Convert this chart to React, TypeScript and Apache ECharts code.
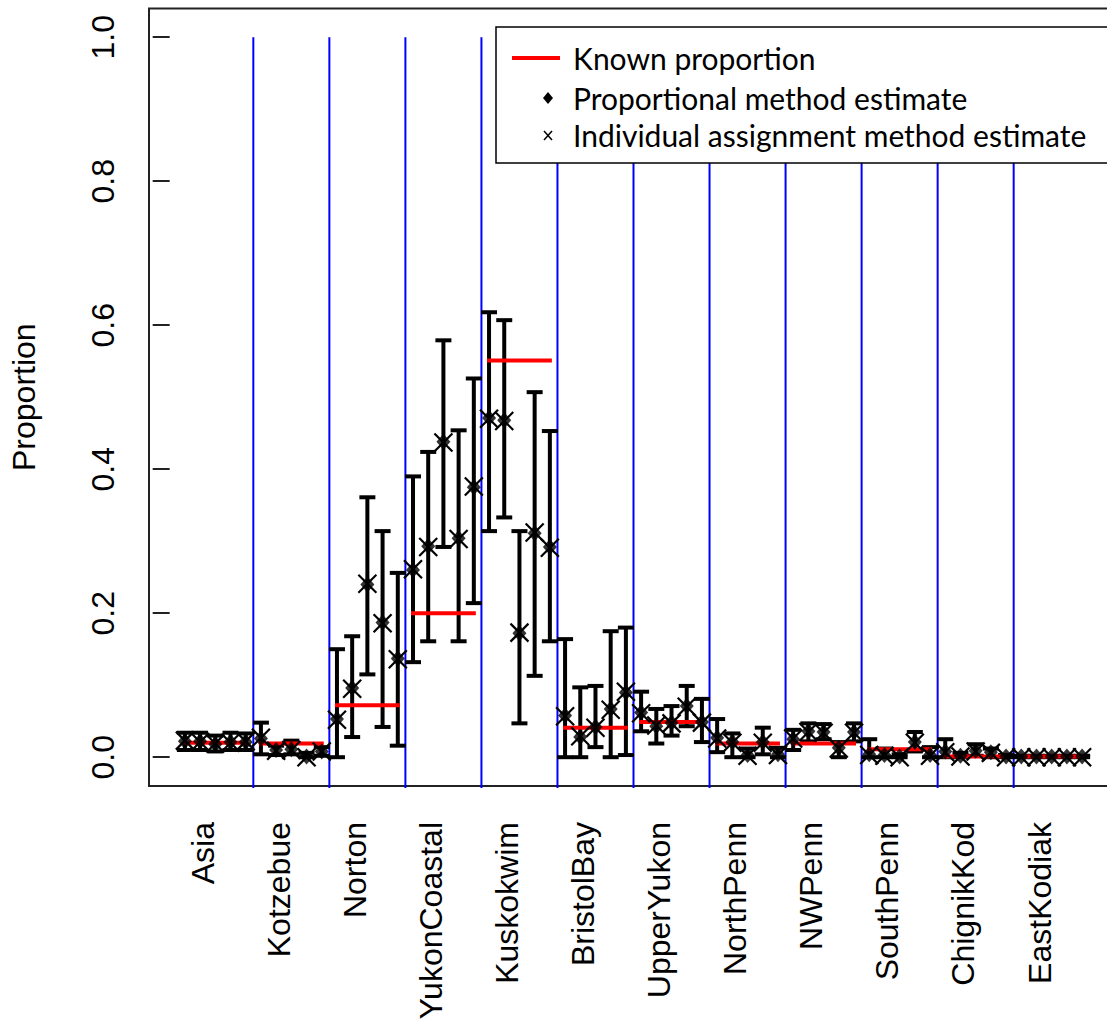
import React, { useEffect, useRef } from "react";
import * as echarts from "echarts";

const regions = ["Asia", "Kotzebue", "Norton", "YukonCoastal", "Kuskokwim", "BristolBay", "UpperYukon", "NorthPenn", "NWPenn", "SouthPenn", "ChignikKod", "EastKodiak"];
const knownProportion = [0.020, 0.019, 0.072, 0.200, 0.551, 0.041, 0.049, 0.019, 0.019, 0.011, 0.001, 0.001];
const proportionalEstimate = [
  0.022, 0.022, 0.018, 0.021, 0.021,
  0.026, 0.010, 0.011, 0.001, 0.008,
  0.053, 0.096, 0.240, 0.187, 0.137,
  0.260, 0.293, 0.438, 0.304, 0.375,
  0.471, 0.468, 0.172, 0.311, 0.292,
  0.058, 0.028, 0.042, 0.067, 0.090,
  0.062, 0.043, 0.048, 0.071, 0.049,
  0.027, 0.021, 0.003, 0.021, 0.004,
  0.025, 0.036, 0.035, 0.013, 0.035,
  0.004, 0.003, 0.001, 0.021, 0.003,
  0.008, 0.002, 0.009, 0.007, 0.001,
  0.001, 0.001, 0.001, 0.001, 0.001,
];
const individualEstimate = [
  0.023, 0.021, 0.019, 0.020, 0.022,
  0.027, 0.009, 0.010, 0.000, 0.008,
  0.052, 0.095, 0.241, 0.186, 0.136,
  0.261, 0.292, 0.437, 0.303, 0.376,
  0.470, 0.467, 0.173, 0.312, 0.291,
  0.057, 0.029, 0.041, 0.066, 0.091,
  0.061, 0.044, 0.047, 0.070, 0.048,
  0.026, 0.020, 0.002, 0.020, 0.003,
  0.026, 0.035, 0.034, 0.012, 0.034,
  0.003, 0.002, 0.000, 0.020, 0.002,
  0.007, 0.001, 0.008, 0.006, 0.000,
  0.000, 0.000, 0.000, 0.000, 0.000,
];
const ciLower = [
  0.010, 0.010, 0.008, 0.010, 0.010,
  0.004, 0.003, 0.004, 0.000, 0.002,
  0.000, 0.028, 0.115, 0.042, 0.016,
  0.132, 0.161, 0.292, 0.161, 0.214,
  0.314, 0.333, 0.047, 0.113, 0.161,
  0.000, 0.000, 0.014, 0.000, 0.003,
  0.036, 0.019, 0.030, 0.043, 0.021,
  0.007, 0.000, 0.000, 0.004, 0.000,
  0.010, 0.022, 0.025, 0.000, 0.022,
  0.000, 0.000, 0.000, 0.008, 0.000,
  0.000, 0.000, 0.002, 0.000, 0.000,
  0.000, 0.000, 0.000, 0.000, 0.000,
];
const ciUpper = [
  0.034, 0.034, 0.030, 0.034, 0.033,
  0.048, 0.016, 0.023, 0.006, 0.014,
  0.150, 0.168, 0.361, 0.314, 0.256,
  0.390, 0.424, 0.579, 0.454, 0.526,
  0.618, 0.607, 0.314, 0.507, 0.453,
  0.164, 0.097, 0.099, 0.175, 0.180,
  0.091, 0.067, 0.071, 0.099, 0.081,
  0.053, 0.033, 0.012, 0.041, 0.013,
  0.038, 0.047, 0.046, 0.021, 0.047,
  0.025, 0.012, 0.004, 0.035, 0.014,
  0.025, 0.006, 0.018, 0.012, 0.003,
  0.002, 0.002, 0.002, 0.002, 0.002,
];
const yTicks = [0, 0.2, 0.4, 0.6, 0.8, 1.0];
const labelPositions = [2.2, 7.2, 12.2, 17.2, 22.2, 27.2, 32.2, 37.2, 42.2, 47.2, 52.2, 57.2];
const dividers = [5.5, 10.5, 15.5, 20.5, 25.5, 30.5, 35.5, 40.5, 45.5, 50.5, 55.5];
const legendLabels = ["Known proportion", "Proportional method estimate", "Individual assignment method estimate"];

const FONT = "Liberation Sans, Arial, sans-serif";
const LEGEND_FONT = "Lato, sans-serif";
const CHART_W = 1130;

export default function App() {
  const ref = useRef<HTMLDivElement>(null);
  useEffect(() => {
    if (!ref.current) return;
    const chart = echarts.init(ref.current, null, { renderer: "svg" });
    const perGroup = 5;
    const errorData = ciLower.map((lo, i) => [i + 1, lo, ciUpper[i]]);
    const propData = proportionalEstimate.map((v, i) => [i + 1, v]);
    const indivData = individualEstimate.map((v, i) => [i + 1, v]);
    const knownData = knownProportion.map((v, g) => [g * perGroup + 1, g * perGroup + perGroup, v]);
    const dividerData = dividers.map((x) => [x, 1.0]);
    const legendStyle = { fontSize: 30, fontFamily: LEGEND_FONT, fill: "#000", verticalAlign: "middle", align: "left" };
    const LZ = 100;

    const option: any = {
      animation: false,
      grid: { left: 148, top: 8.4, right: CHART_W - 1118, bottom: 237, show: true, borderColor: "#222", borderWidth: 2, backgroundColor: "transparent" },
      xAxis: {
        type: "value", min: -1.36, max: 62.36,
        axisLine: { show: false }, splitLine: { show: false }, axisTick: { show: false },
        axisLabel: {
          customValues: labelPositions,
          formatter: (v: number) => {
            const i = labelPositions.findIndex((p) => Math.abs(p - v) < 1e-6);
            return i >= 0 ? regions[i] : "";
          },
          rotate: 90, margin: 36, fontSize: 32, color: "#000", fontFamily: FONT,
        },
      },
      yAxis: {
        type: "value", min: -0.04, max: 1.04,
        axisLine: { show: false }, splitLine: { show: false },
        axisTick: { show: true, customValues: yTicks, length: 17, lineStyle: { color: "#222", width: 2 } },
        axisLabel: { customValues: yTicks, formatter: (v: number) => v.toFixed(1), rotate: 90, margin: 30, fontSize: 32, color: "#000", fontFamily: FONT },
        name: "Proportion", nameLocation: "middle", nameGap: 109, nameRotate: 90,
        nameTextStyle: { fontSize: 32, color: "#000", fontFamily: FONT },
      },
      series: [
        {
          type: "custom", name: "dividers", data: dividerData, clip: false, z: 1,
          encode: { x: 0, y: 1 },
          renderItem: (params: any, api: any) => {
            const top = api.coord([api.value(0), api.value(1)]);
            const bot = api.coord([api.value(0), -0.04]);
            return { type: "line", shape: { x1: top[0], y1: top[1], x2: bot[0], y2: bot[1] + 2 }, style: { stroke: "#0000ff", lineWidth: 2 } };
          },
        },
        {
          type: "custom", name: "ci", data: errorData, z: 2,
          encode: { x: 0, y: [1, 2] },
          renderItem: (params: any, api: any) => {
            const x = api.value(0);
            const lo = api.coord([x, api.value(1)]);
            const hi = api.coord([x, api.value(2)]);
            const cap = 8;
            const style = { stroke: "#000", lineWidth: 4 };
            return {
              type: "group",
              children: [
                { type: "line", shape: { x1: lo[0], y1: lo[1], x2: hi[0], y2: hi[1] }, style },
                { type: "line", shape: { x1: lo[0] - cap, y1: lo[1], x2: lo[0] + cap, y2: lo[1] }, style },
                { type: "line", shape: { x1: hi[0] - cap, y1: hi[1], x2: hi[0] + cap, y2: hi[1] }, style },
              ],
            };
          },
        },
        {
          type: "custom", name: "known", data: knownData, z: 3,
          encode: { x: [0, 1], y: 2 },
          renderItem: (params: any, api: any) => {
            const a = api.coord([api.value(0), api.value(2)]);
            const b = api.coord([api.value(1), api.value(2)]);
            return { type: "line", shape: { x1: a[0] - 2, y1: a[1], x2: b[0] + 2, y2: b[1] }, style: { stroke: "#ff0000", lineWidth: 4 } };
          },
        },
        {
          type: "scatter", name: "prop", data: propData, z: 4,
          symbol: "diamond", symbolSize: [14, 16], itemStyle: { color: "#000" },
        },
        {
          type: "custom", name: "indiv", data: indivData, z: 5,
          encode: { x: 0, y: 1 },
          renderItem: (params: any, api: any) => {
            const c = api.coord([api.value(0), api.value(1)]);
            const h = 9;
            const style = { stroke: "#000", lineWidth: 2.2 };
            return {
              type: "group",
              children: [
                { type: "line", shape: { x1: c[0] - h, y1: c[1] - h, x2: c[0] + h, y2: c[1] + h }, style },
                { type: "line", shape: { x1: c[0] - h, y1: c[1] + h, x2: c[0] + h, y2: c[1] - h }, style },
              ],
            };
          },
        },
      ],
      graphic: {
        elements: [
          { type: "rect", z: LZ, shape: { x: 496, y: 27, width: 700, height: 136 }, style: { fill: "#fff", stroke: "#000", lineWidth: 1.5 } },
          { type: "line", z: LZ + 1, shape: { x1: 512, y1: 58, x2: 560, y2: 58 }, style: { stroke: "#ff0000", lineWidth: 4 } },
          { type: "polygon", z: LZ + 1, shape: { points: [[548, 92], [553, 98], [548, 104], [543, 98]] }, style: { fill: "#000" } },
          { type: "line", z: LZ + 1, shape: { x1: 544, y1: 131, x2: 552, y2: 140 }, style: { stroke: "#000", lineWidth: 1.5 } },
          { type: "line", z: LZ + 1, shape: { x1: 544, y1: 140, x2: 552, y2: 131 }, style: { stroke: "#000", lineWidth: 1.5 } },
          { type: "text", z: LZ + 1, x: 573, y: 58, style: { ...legendStyle, text: legendLabels[0] } },
          { type: "text", z: LZ + 1, x: 573, y: 98, style: { ...legendStyle, text: legendLabels[1] } },
          { type: "text", z: LZ + 1, x: 573, y: 135, style: { ...legendStyle, text: legendLabels[2] } },
        ],
      },
    };
    chart.setOption(option);
    return () => chart.dispose();
  }, []);
  return (
    <div style={{ position: "absolute", left: 0, top: 0, width: 1107, height: 1023, overflow: "hidden", background: "#fff" }}>
      <div ref={ref} style={{ width: CHART_W, height: 1023 }} />
    </div>
  );
}
